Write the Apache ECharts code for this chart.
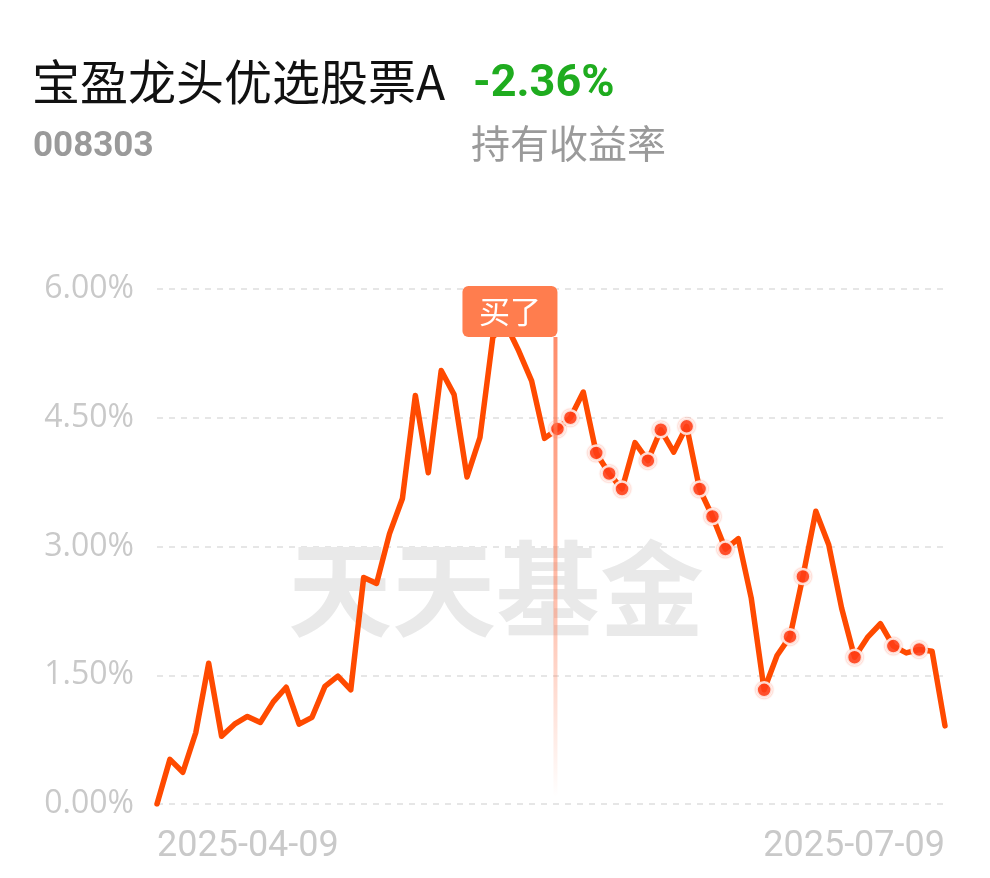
<!DOCTYPE html>
<html>
<head>
<meta charset="utf-8">
<script src="https://cdn.jsdelivr.net/npm/echarts@6/dist/echarts.min.js"></script>
<style>
html,body{margin:0;padding:0;background:#fff;}
#chart{width:990px;height:878px;}
</style>
</head>
<body>
<div id="chart"></div>
<script>
// ---- data ----
var fundName = '宝盈龙头优选股票A';
var fundCode = '008303';
var holdReturn = '-2.36%';
var holdLabel = '持有收益率';
var watermark = '天天基金';
var buyLabel = '买了';

var dates = [
  '2025-04-09','2025-04-10','2025-04-11','2025-04-14','2025-04-15','2025-04-16','2025-04-17','2025-04-18',
  '2025-04-21','2025-04-22','2025-04-23','2025-04-24','2025-04-25','2025-04-28','2025-04-29','2025-04-30',
  '2025-05-06','2025-05-07','2025-05-08','2025-05-09','2025-05-12','2025-05-13','2025-05-14','2025-05-15',
  '2025-05-16','2025-05-19','2025-05-20','2025-05-21','2025-05-22','2025-05-23','2025-05-26','2025-05-27',
  '2025-05-28','2025-05-29','2025-05-30','2025-06-03','2025-06-04','2025-06-05','2025-06-06','2025-06-09',
  '2025-06-10','2025-06-11','2025-06-12','2025-06-13','2025-06-16','2025-06-17','2025-06-18','2025-06-19',
  '2025-06-20','2025-06-23','2025-06-24','2025-06-25','2025-06-26','2025-06-27','2025-06-30','2025-07-01',
  '2025-07-02','2025-07-03','2025-07-04','2025-07-07','2025-07-08','2025-07-09'
];

var returns = [
  0.00, 0.52, 0.37, 0.83, 1.64, 0.79, 0.93, 1.02, 0.95, 1.19,
  1.36, 0.93, 1.01, 1.37, 1.49, 1.33, 2.64, 2.57, 3.15, 3.56,
  4.76, 3.86, 5.05, 4.77, 3.81, 4.27, 5.44, 5.59, 5.28, 4.93,
  4.26, 4.37, 4.50, 4.80, 4.09, 3.85, 3.67, 4.21, 4.00, 4.36,
  4.10, 4.40, 3.67, 3.35, 2.97, 3.09, 2.40, 1.33, 1.73, 1.95,
  2.65, 3.41, 3.02, 2.28, 1.71, 1.94, 2.10, 1.84, 1.76, 1.80,
  1.78, 0.91
];

// indices of days with a marker dot
var markerIdx = [31, 32, 34, 35, 36, 38, 39, 41, 42, 43, 44, 47, 49, 50, 54, 57, 59];
var buyIdx = 31;

var yTicks = [0, 1.5, 3, 4.5, 6];

// ---- chart ----
var chart = echarts.init(document.getElementById('chart'), null, {renderer: 'canvas'});

var markerData = markerIdx.map(function (i) { return [i, returns[i]]; });

var option = {
  backgroundColor: '#fff',
  animation: false,
  title: [
    {text: fundName, left: 27, top: 53,
     textStyle: {fontFamily: 'Noto Sans CJK SC', fontSize: 48, fontWeight: 'normal', color: '#111'}},
    {text: holdReturn, left: 468, top: 57,
     textStyle: {fontFamily: 'Roboto', fontSize: 45, fontWeight: 'bold', color: '#1fac1f'}},
    {text: fundCode, left: 28, top: 125,
     textStyle: {fontFamily: 'Roboto', fontSize: 35, fontWeight: 'bold', color: '#9a9a9a'}},
    {text: holdLabel, left: 466, top: 119,
     textStyle: {fontFamily: 'Noto Sans CJK SC', fontSize: 39, fontWeight: 'normal', color: '#9a9a9a'}}
  ],
  grid: {left: 157, right: 45, top: 289, bottom: 74, containLabel: false},
  xAxis: {
    type: 'category',
    data: dates,
    boundaryGap: false,
    axisLine: {show: false},
    axisTick: {show: false},
    splitLine: {show: false},
    axisLabel: {
      interval: function (i) { return i === 0 || i === dates.length - 1; },
      alignMinLabel: 'left',
      alignMaxLabel: 'right',
      showMinLabel: true,
      showMaxLabel: true,
      margin: 25,
      color: '#c9c9c9',
      fontFamily: 'Roboto',
      fontSize: 36
    }
  },
  yAxis: {
    type: 'value',
    min: yTicks[0],
    max: yTicks[yTicks.length - 1],
    interval: 1.5,
    axisLine: {show: false},
    axisTick: {show: false},
    axisLabel: {
      margin: 23,
      color: '#c9c9c9',
      fontFamily: 'Open Sans',
      fontSize: 32,
      formatter: function (v) { return v.toFixed(2) + '%'; }
    },
    splitLine: {show: true, lineStyle: {color: '#e6e6e6', width: 2, type: [6, 6]}}
  },
  series: [
    {
      type: 'line',
      data: returns,
      showSymbol: false,
      symbol: 'none',
      smooth: false,
      z: 3,
      lineStyle: {color: '#ff4a00', width: 5.5, join: 'round', cap: 'round'},
      itemStyle: {color: '#ff4a00'}
    },
    {
      type: 'scatter',
      data: markerData,
      symbol: 'circle',
      symbolSize: 15,
      z: 5,
      itemStyle: {
        color: '#ff3b14',
        borderColor: '#ffffff',
        borderWidth: 2.5,
        shadowBlur: 2,
        shadowColor: 'rgba(255,80,40,0.6)'
      }
    }
  ]
};

chart.setOption(option);

function addOverlays() {
  var pBuy = chart.convertToPixel({gridIndex: 0}, [buyIdx, yTicks[yTicks.length - 1]]);
  var pBottom = chart.convertToPixel({gridIndex: 0}, [buyIdx, yTicks[0]]);
  var pMid = chart.convertToPixel({gridIndex: 0}, [0, 3]);
  var lineX = pBuy[0] - 2;
  var boxTop = pBuy[1] - 3;
  var boxH = 51;
  var boxW = 95;
  chart.setOption({
    graphic: [
      {
        type: 'text',
        z: 0,
        silent: true,
        left: 288,
        top: pMid[1] - 9,
        style: {
          text: watermark,
          fontFamily: 'Noto Sans CJK SC',
          fontSize: 104,
          fontWeight: 'bold',
          fill: '#e9e9e9'
        }
      },
      {
        type: 'rect',
        z: 10,
        silent: true,
        shape: {x: lineX - 2, y: boxTop + boxH, width: 4, height: pBottom[1] - 7 - (boxTop + boxH)},
        style: {
          fill: new echarts.graphic.LinearGradient(0, 0, 0, 1, [
            {offset: 0, color: 'rgba(255,120,80,0.85)'},
            {offset: 0.6, color: 'rgba(255,120,80,0.45)'},
            {offset: 1, color: 'rgba(255,120,80,0.0)'}
          ])
        }
      },
      {
        type: 'rect',
        z: 11,
        silent: true,
        shape: {x: lineX + 2 - boxW, y: boxTop, width: boxW, height: boxH, r: 6},
        style: {fill: '#ff7d4e'}
      },
      {
        type: 'text',
        z: 12,
        silent: true,
        style: {
          text: buyLabel,
          x: lineX + 2 - boxW / 2,
          y: boxTop + boxH / 2,
          align: 'center',
          verticalAlign: 'middle',
          fontFamily: 'Noto Sans CJK SC',
          fontSize: 31,
          fill: '#ffffff'
        }
      }
    ]
  });
}
addOverlays();
</script>
</body>
</html>
